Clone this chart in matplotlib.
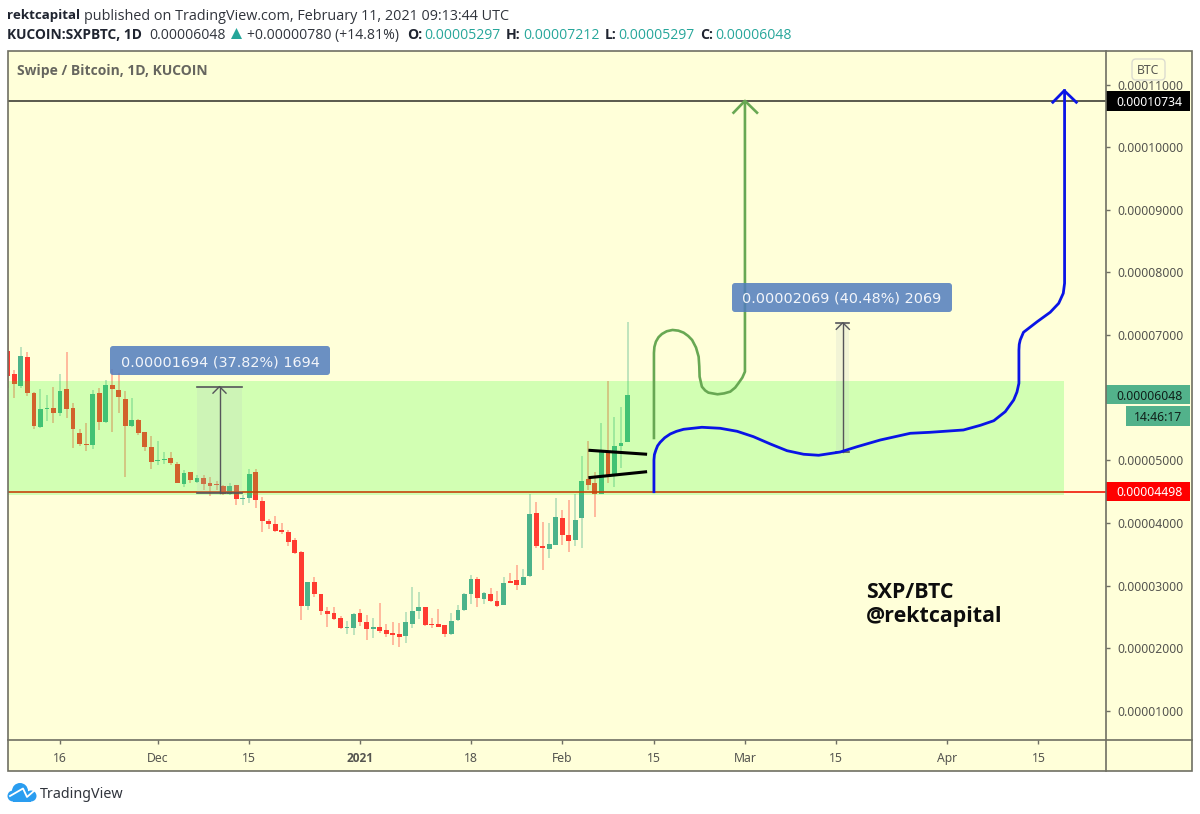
import numpy as np
import matplotlib
matplotlib.use("Agg")
import matplotlib.pyplot as plt
from matplotlib.patches import Rectangle, FancyBboxPatch, Circle, Polygon
from matplotlib.transforms import Affine2D

# Daily candles in satoshi (1e-8 BTC); day 0 is 1 Jan 2021
first_day = -54
opens = [6746,6373,6187,6655,6080,5526,5814,5830,5761,6133,5830,5430,5260,5249,6069,5612,
         6203,6123,5979,5553,5644,5446,5207,4983,5004,5031,4946,4621,4807,4648,4717,4637,
         4610,4594,4456,4600,4381,4392,4813,4350,4025,3987,3892,3860,3721,3529,2672,3056,
         2864,2598,2555,2475,2321,2321,2560,2417,2310,2337,2289,2236,2230,2198,2390,2587,
         2651,2385,2385,2369,2230,2449,2603,2858,3098,2784,2858,2757,2688,3072,3082,3013,
         3146,4152,3630,3577,3651,4072,3806,3726,4083,4695,4636,4466,5126,4775,5227,5297]
highs = [7081,6442,6804,6735,6096,6133,6043,6176,6378,6735,5910,5494,5590,6123,6149,6283,
         6450,6400,6112,5990,5654,5446,5393,5308,5127,5127,4978,4845,4818,4765,4765,4738,
         4669,4605,4632,4605,4445,4855,4855,4408,4062,4110,3998,3881,3753,3556,3056,3130,
         2864,2656,2661,2518,2438,2566,2619,2528,2475,2720,2390,2417,2395,2576,2970,2901,
         2651,2475,2619,2369,2555,2688,2875,3167,3141,2901,2960,2907,3130,3194,3327,3263,
         4461,4338,4013,4003,4391,4205,4359,4455,5068,5307,4807,5600,6266,5696,5856,7212]
lows = [6149,5990,6149,6027,5505,5510,5633,5590,5707,5681,5202,5228,5148,5175,5484,5601,
        5457,5761,4728,5526,5404,5154,4861,4925,4941,4925,4632,4568,4632,4632,4525,4435,
        4525,4445,4445,4286,4286,4312,4232,3860,3897,3860,3817,3636,3503,2448,2608,2811,
        2528,2342,2448,2305,2225,2209,2358,2129,2161,2236,2182,2049,2012,2086,2321,2459,
        2353,2326,2337,2182,2209,2433,2592,2699,2656,2699,2731,2656,2683,3045,2933,3002,
        3135,3598,3247,3438,3641,3646,3539,3635,3603,4524,4099,4461,4631,4578,4871,5297]
closes = [6346,6213,6666,6069,5548,5814,5830,5750,6107,5814,5494,5260,5249,6059,5606,6203,
          6133,6006,5548,5644,5430,5212,4978,5004,5015,4951,4642,4797,4685,4717,4621,4594,
          4600,4456,4584,4381,4392,4781,4365,4030,3987,3876,3849,3700,3513,2672,3056,2869,
          2598,2544,2459,2326,2337,2550,2422,2310,2337,2278,2225,2214,2177,2417,2598,2656,
          2374,2363,2342,2225,2438,2614,2864,3098,2805,2880,2757,2672,3045,3045,3013,3135,
          4136,3635,3603,3657,4088,3811,3715,4051,4663,4610,4455,5148,4769,5227,5270,6048]

green_days = [45.05,45.05,45.12,45.35,45.75,46.27,47.0,47.9,48.8,49.6,50.3,50.9,51.5,51.9,52.0,52.05,52.4,
              52.9,53.4,54.8,55.8,56.75,57.5,58.0,58.6,59.0,59.0]
green_vals = [5356,6714,6810,6894,6965,7017,7060,7081,7070,7038,6985,6921,6800,6654,6500,6335,6175,
              6115,6080,6054,6068,6096,6160,6230,6320,6415,10727]
green_head_days = [57.25,59.0,60.85]
green_head_vals = [10551,10740,10551]

blue_days = [45.05,45.05,45.12,45.35,45.6,46,46.7,47.55,48.5,49.6,52.4,55.2,57.8,60.3,62.9,65.45,68,70.3,73.6,76.2,79.75,
             84.35,87.4,92.5,95.1,97.15,98.9,100.2,100.7,101,101,101.05,101.2,101.7,103.8,105.8,107.1,107.8,108,108]
blue_vals = [4498,5005,5090,5164,5230,5287,5360,5420,5462,5495,5527,5511,5463,5377,5260,5153,5096,5080,5132,5217,5324,
             5431,5447,5484,5559,5632,5776,5963,6090,6230,6761,6850,6921,7044,7213,7364,7507,7667,7827,10903]
blue_head_days = [106.2,107.95,109.8]
blue_head_vals = [10717,10903,10717]

tri_days = [35,44]
tri_upper = [5160,5096]
tri_lower = [4722,4818]

zone_days = [first_day-1,107.9]
zone_vals = [4446,6272]
resistance = 10734
support = 4498
last_price = 6048

m1_days = [-25,-18.1]; m1_vals = [4483,6177]; m1_text = "0.00001694 (37.82%) 1694"
m2_days = [73,75]; m2_vals = [5128,7197]; m2_text = "0.00002069 (40.48%) 2069"

y_ticks = [1000,2000,3000,4000,5000,6000,7000,8000,9000,10000,11000]
x_ticks = [-46,-31,-17,0,17,31,45,59,73,90,104]
x_labels = ["16","Dec","15","2021","18","Feb","15","Mar","15","Apr","15"]

W,H = 1200,814
BG = "#FFFFD9"; EDGE = "#6f6f63"; TXT = "#555550"
RED = "#FF3B30"; GRN = "#4BB38A"; TEAL = "#26A69A"
L,R,T,B = 7.5,1106,51,740
AXF = "Noto Sans"; AXS = 8.8
fig = plt.figure(figsize=(W/100,H/100),dpi=100,facecolor="white")
ax = fig.add_axes([L/W,1-B/H,(R-L)/W,(B-T)/H],facecolor=BG)
ax.set_xlim(-54.05,114.35)
ax.set_ylim(533,11536)
px = Affine2D().scale(1,-1).translate(0,H)

# outer furniture
ax.add_patch(Rectangle((R,T),1192-R,771-T,transform=px,fc=BG,ec="none",clip_on=False,zorder=0))
ax.add_patch(Rectangle((L,B),1192-L,771-B,transform=px,fc=BG,ec="none",clip_on=False,zorder=0))
ax.add_patch(Rectangle((L,T),1192-L,771-T,transform=px,fc="none",ec=EDGE,lw=1.2,clip_on=False,zorder=9))
ax.plot([L,1192],[B,B],transform=px,color=EDGE,lw=1.2,clip_on=False,zorder=9)
ax.plot([R,R],[T,771],transform=px,color=EDGE,lw=1.2,clip_on=False,zorder=9)
for s in ax.spines.values():
    s.set_visible(False)

# candles
days = first_day+np.arange(len(opens))
o,h,l,c = map(np.array,(opens,highs,lows,closes))
cols = [GRN if ci>=oi else RED for oi,ci in zip(o,c)]
ax.vlines(days,l,h,colors=cols,lw=1.1,alpha=0.45,zorder=2)
ax.bar(days,np.maximum(np.abs(c-o),14),bottom=np.minimum(o,c),width=0.74,color=cols,lw=0,zorder=2.2)

# horizontal levels
ax.axhline(resistance,color="#4d4d42",lw=1.3,zorder=2.4)
ax.axhline(support,color="#f01808",lw=1.2,zorder=2.4)

# zone overlay
ax.add_patch(Rectangle((zone_days[0],zone_vals[0]),zone_days[1]-zone_days[0],zone_vals[1]-zone_vals[0],
                       fc=(30/255,1,31/255,0.2),ec="none",zorder=3))

# measure tools
def measure(dd,vv,text,lx0,lx1,ly0,ly1):
    ax.add_patch(Rectangle((dd[0],vv[0]),dd[1]-dd[0],vv[1]-vv[0],fc=(180/255,190/255,200/255,0.16),ec="none",zorder=3.2))
    mid = sum(dd)/2
    ax.plot(dd,[vv[0]]*2,color="#55555a",lw=1.2,zorder=3.4)
    ax.plot(dd,[vv[1]]*2,color="#55555a",lw=1.2,zorder=3.4)
    ax.plot([mid,mid],vv,color="#55555a",lw=1.0,zorder=3.4)
    ax.plot([mid-1.0,mid,mid+1.0],[vv[1]-105,vv[1],vv[1]-105],color="#55555a",lw=1.0,zorder=3.4)
    ax.add_patch(FancyBboxPatch((lx0+3,ly0+3),lx1-lx0-6,ly1-ly0-6,boxstyle="round,pad=3,rounding_size=3",
                                transform=px,fc=(81/255,125/255,190/255,0.85),ec="none",zorder=5,clip_on=False))
    ax.text((lx0+lx1)/2,(ly0+ly1)/2,text,transform=px,color="#f2f5fa",fontsize=10.4,family="DejaVu Sans",
            ha="center",va="center_baseline",zorder=6)

# drawn lines
ax.plot(tri_days,tri_upper,color="black",lw=2.2,zorder=4,solid_capstyle="butt")
ax.plot(tri_days,tri_lower,color="black",lw=2.2,zorder=4,solid_capstyle="butt")
ax.plot(green_days,green_vals,color="#68A853",lw=1.9,zorder=4,solid_joinstyle="round")
ax.plot(green_head_days,green_head_vals,color="#68A853",lw=1.9,zorder=4)
ax.plot(blue_days,blue_vals,color="#0A14E6",lw=2.0,zorder=4.2,solid_joinstyle="round")
ax.plot(blue_head_days,blue_head_vals,color="#0A14E6",lw=2.0,zorder=4.2)

measure(m1_days,m1_vals,m1_text,110,330,346,375)
measure(m2_days,m2_vals,m2_text,732,952,283,312)

# axes ticks
ax.yaxis.tick_right()
ax.set_yticks(y_ticks)
ax.set_yticklabels(["" if v==6000 else "%.8f"%(v*1e-8) for v in y_ticks],family=AXF,fontsize=AXS,color=TXT)
ax.tick_params(axis="y",length=3,width=1,color=EDGE,pad=5.5)
ax.set_xticks(x_ticks)
ax.set_xticklabels(x_labels,family=AXF,fontsize=AXS,color=TXT)
bold_tick = ax.get_xticklabels()[3]
bold_tick.set_family("Open Sans")
bold_tick.set_fontweight("bold")
bold_tick.set_fontsize(8.6)
ax.tick_params(axis="x",length=3,width=1,color=EDGE,pad=5.5)

# price tags
def tag(val,txt,fc,tc,y0,y1,x0=R,x1=1190):
    ax.add_patch(Rectangle((x0,y0),x1-x0,y1-y0,transform=px,fc=fc,ec="none",clip_on=False,zorder=7))
    ax.text(1116 if x0==R else (x0+x1)/2,(y0+y1)/2,txt,transform=px,color=tc,fontsize=AXS,family=AXF,
            ha="left" if x0==R else "center",va="center_baseline",zorder=8)
tag(resistance,"%.8f"%(resistance*1e-8),"black","white",91,111)
tag(last_price,"%.8f"%(last_price*1e-8),"#52B28B","#10201a",385,404)
tag(last_price,"14:46:17","#52B28B","#10201a",406,426,x0=1126)
tag(support,"%.8f"%(support*1e-8),"#FF0000","white",482,501)
ax.add_patch(FancyBboxPatch((1134,61),29,17,boxstyle="round,pad=2,rounding_size=4",transform=px,
                            fc=BG,ec="#dcdcd0",lw=1,clip_on=False,zorder=7))
ax.text(1148.5,69.5,"BTC",transform=px,color=TXT,fontsize=AXS,family=AXF,ha="center",va="center_baseline",zorder=8)

# titles
SANS = "Open Sans"
ax.text(17,70,"Swipe / Bitcoin, 1D, KUCOIN",transform=px,color="#66665f",fontsize=10.0,family=SANS,weight="bold",
        va="center_baseline",zorder=8)
def hdr(x,y,s,weight="normal",color="#1f2430",size=10.1):
    ax.text(x,y,s,transform=px,color=color,fontsize=size,family=SANS,weight=weight,va="center_baseline",clip_on=False,zorder=8)
hdr(7,14,"rektcapital",weight="bold",size=9.6)
hdr(84,14,"published on TradingView.com, February 11, 2021 09:13:44 UTC",color="#30343c",size=10.35)
hdr(7,33.5,"KUCOIN:SXPBTC, 1D",weight="bold",size=9.95)
hdr(149,33.5,"0.00006048",color="#30343c")
ax.add_patch(Polygon([(231,39),(242,39),(236.5,28)],closed=True,transform=px,fc=TEAL,ec="none",clip_on=False))
hdr(247,33.5,"+0.00000780 (+14.81%)",color="#30343c")
for x,s in [(407,"O:"),(506,"H:"),(605,"L:"),(700,"C:")]:
    hdr(x,33.5,s,weight="bold")
for x,s in [(424,"0.00005297"),(523,"0.00007212"),(618,"0.00005297"),(715,"0.00006048")]:
    hdr(x,33.5,s,color=TEAL)

ax.text(866,590,"SXP/BTC",transform=px,color="#0d0d0d",fontsize=15.4,family="Open Sans",weight="bold",va="center_baseline",zorder=8)
ax.text(866,614,"@rektcapital",transform=px,color="#0d0d0d",fontsize=15.4,family="Open Sans",weight="bold",va="center_baseline",zorder=8)

# footer logo
LOGO="#2A9DF0"
for (cx,cy,r) in [(20,791,8),(13,796,5.5),(31,796,5.5)]:
    ax.add_patch(Circle((cx,cy),r,transform=px,fc=LOGO,ec="none",clip_on=False))
ax.add_patch(Rectangle((13,795),18,6.5,transform=px,fc=LOGO,ec="none",clip_on=False))
ax.plot([10,23,27,35],[796,788.5,797,790],transform=px,color="white",lw=1.3,clip_on=False,zorder=3)
ax.text(40,793,"TradingView",transform=px,color="#30343c",fontsize=10.3,family="Noto Sans",va="center_baseline",clip_on=False)

fig.savefig("out.png",dpi=100,facecolor="white")
